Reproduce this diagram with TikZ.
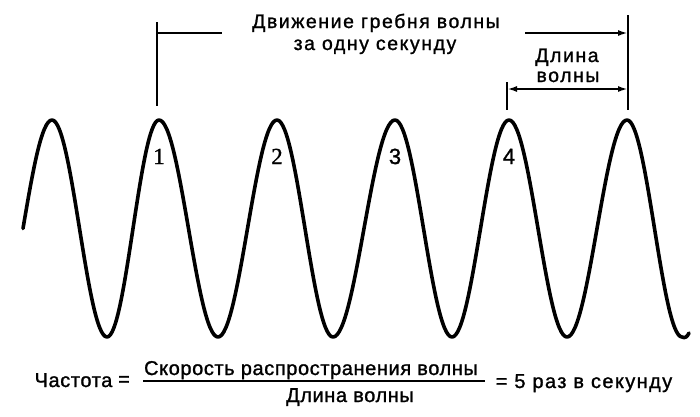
\documentclass[tikz,border=0pt]{standalone}
\usepackage{fontspec}
\setmainfont[FakeBold=1.2]{Liberation Sans}
\newfontfamily\wordfont[LetterSpace=8,FakeBold=1.2]{Liberation Sans}
\newfontfamily\fracfont[LetterSpace=3,FakeBold=1.2]{Liberation Sans}
\newfontfamily\tailfont[LetterSpace=7,FakeBold=1.2]{Liberation Sans}
\newfontfamily\numserif[FakeBold=1.2]{Liberation Serif}
\usetikzlibrary{arrows.meta}
\begin{document}
\begin{tikzpicture}[x=1pt,y=-1pt,
  wave/.style={line width=3.6pt,line cap=round,line join=round},
  tick/.style={line width=2pt},
  dimarrow/.style={line width=2pt,-{Latex[length=10pt,width=6pt]}},
  dimboth/.style={line width=2pt,{Latex[length=10pt,width=6pt]}-{Latex[length=10pt,width=6pt]}},
  toplabel/.style={font=\wordfont\fontsize{19.5}{22}\selectfont,inner sep=0pt,anchor=base},
  numlabel/.style={inner sep=0pt,anchor=base},
  formula/.style={font=\fracfont\fontsize{20}{22}\selectfont,inner sep=0pt,anchor=base}]
\useasboundingbox (0,0) rectangle (700,416);
% wave
\draw[wave] (23,228.5) sin (52,120) cos (79.5,228.5) sin (107,337) cos (133,228.5)
  sin (159,120) cos (188.5,228.5) sin (218,337) cos (247.5,228.5)
  sin (277,120) cos (305,228.5) sin (333,337) cos (364,228.5)
  sin (395,120) cos (423.5,228.5) sin (452,337) cos (480.5,228.5)
  sin (509,120) cos (538,228.5) sin (567,337) cos (597,228.5)
  sin (627,120) cos (654.5,228.5) sin (682,337)
  .. controls (685,338.5) and (687,337) .. (689,333);
% crest numbers
\node[numlabel,font=\numserif\fontsize{23}{24}\selectfont] (n1) at (159,164) {1};
\node[numlabel,font=\numserif\fontsize{23}{24}\selectfont] (n2) at (277,164) {2};
\node[numlabel,font=\fontsize{22}{24}\selectfont] (n3) at (395,164) {3};
\node[numlabel,font=\fontsize{22}{24}\selectfont] (n4) at (509,164) {4};
% ticks and arrows
\coordinate (l1) at (157,22);
\coordinate (l2) at (157,106);
\coordinate (h1) at (157,33);
\coordinate (h2) at (222,33);
\coordinate (r1) at (628,15);
\coordinate (r2) at (628,110);
\coordinate (a1) at (525,33);
\coordinate (a2) at (628,33);
\coordinate (w1) at (507,82);
\coordinate (w2) at (507,110);
\coordinate (b1) at (507,89);
\coordinate (b2) at (628,89);
\draw[tick] (l1) -- (l2);
\draw[tick] (h1) -- (h2);
\draw[tick] (r1) -- (r2);
\draw[tick] (w1) -- (w2);
\draw[dimarrow] (a1) -- (a2);
\draw[dimboth] (b1) -- (b2);
% labels
\node[toplabel] (t1) at (376,28) {Движение гребня волны};
\node[toplabel] (t2) at (375,50) {за одну секунду};
\node[toplabel] (t3) at (567,62) {Длина};
\node[toplabel] (t4) at (568,82) {волны};
% formula
\node[formula] (f1) at (73.5,387) {Частота};
\node[formula,anchor=center] (eq1) at (124,381) {=};
\coordinate (fl1) at (143,381);
\coordinate (fl2) at (485,381);
\draw[line width=1.4pt] (fl1) -- (fl2);
\node[formula] (num) at (311,375) {Скорость распространения волны};
\node[formula] (den) at (350,402) {Длина волны};
\node[formula,font=\tailfont\fontsize{20}{22}\selectfont] (f2) at (584,388) {= 5 раз в секунду};
\end{tikzpicture}
\end{document}
